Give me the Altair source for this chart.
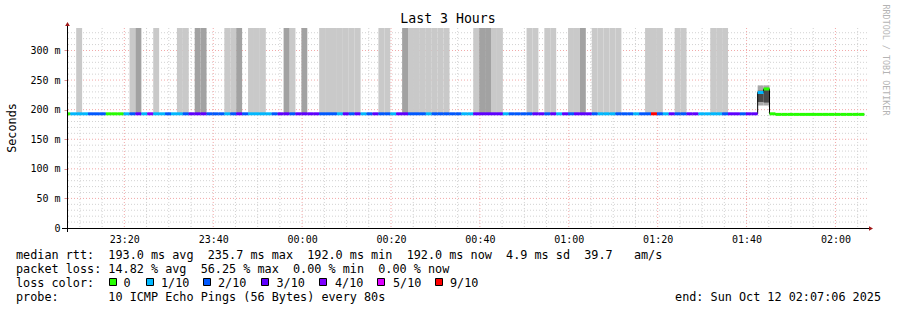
import altair as alt
import pandas as pd

# ---------------- data ----------------
RANGE_START = "2025-10-11 23:07:06"
FIRST_STEP = "2025-10-11 23:07:50"
RANGE_END = "2025-10-12 02:07:06"
STEP_SECONDS = 80

# loss class (pings lost out of 10) for each 80 s step; first entry = partial step before FIRST_STEP
loss = [
    0,
    1, 1, 1, 2, 2, 2, 0, 0, 0, 1,          # 0-9
    2, 3, 1, 4, 1, 1, 2, 1, 1, 2,          # 10-19
    3, 3, 3, 2, 2, 2, 1, 2, 3, 2,          # 20-29
    1, 1, 1, 1, 2, 3, 3, 2, 3, 3,          # 30-39
    3, 3, 2, 2, 2, 1, 3, 2, 3, 1,          # 40-49
    2, 3, 2, 2, 1, 3, 3, 2, 2, 2,          # 50-59
    1, 2, 2, 2, 2, 2, 1, 1, 3, 3,          # 60-69
    3, 3, 3, 1, 2, 2, 2, 2, 3, 3,          # 70-79
    2, 3, 1, 3, 2, 3, 3, 3, 2, 1,          # 80-89
    1, 1, 2, 2, 2, 1, 2, 2, 9, 2,          # 90-99
    1, 3, 2, 2, 3, 3, 1, 1, 1, 1,          # 100-109
    2, 3, 3, 2, 3, 3, 1, 0, 0, 0,          # 110-119
    0, 0, 0, 0, 0, 0, 0, 0, 0, 0,          # 120-129
    0, 0, 0, 0,                            # 130-133
]

# median rtt (ms) for each step, same indexing as loss
median_ms = [
    193,
    193, 193, 193, 193, 193, 193, 193, 193, 193, 193,
    193, 193, 193, 193, 193, 193, 193, 193, 193, 193,
    193, 193, 193, 193, 193, 193, 193, 193, 193, 193,
    193, 193, 193, 193, 193, 193, 193, 193, 193, 193,
    193, 193, 193, 193, 193, 193, 193, 193, 193, 193,
    193, 193, 193, 193, 193, 193, 193, 193, 193, 193,
    193, 193, 193, 193, 193, 193, 193, 193, 193, 193,
    193, 193, 193, 193, 193, 193, 193, 193, 193, 193,
    193, 193, 193, 193, 193, 193, 193, 193, 193, 193,
    193, 193, 193, 193, 193, 193, 193, 193, 193, 193,
    193, 193, 193, 193, 193, 193, 193, 193, 193, 193,
    193, 193, 193, 193, 193, 193, 229, 235, 193, 192,
    192, 192, 192, 192, 192, 192, 192, 192, 192, 192,
    192, 192, 192, 192,
]

# smoke (ping spread) bands
smoke_top_ms = 338
smoke_light_steps = [1, 10, 14, 18, 19, 26, 27, 30, 31, 32, 37,
                     42, 43, 44, 45, 46, 47, 48, 52, 53,
                     57, 58, 59, 60, 61, 62, 63, 68, 71, 72, 77, 78, 80, 81,
                     84, 85, 88, 89, 90, 91, 92, 97, 98, 99, 102, 103,
                     108, 109, 110]
smoke_dark_steps = [11, 21, 22, 28, 36, 39, 56, 69, 70, 86]
spike_steps = [116, 117]
spike_outer_lo = [207, 207]
spike_outer_hi = [241, 241]
spike_inner_lo = [213, 212]
spike_inner_hi = [232, 233]

loss_levels = [0, 1, 2, 3, 4, 5, 9]
loss_labels = ["0", "1/10", "2/10", "3/10", "4/10", "5/10", "9/10"]
loss_colors = ["#26ff00", "#00b8ff", "#0059ff", "#5e00ff", "#7e00ff", "#dd00ff", "#ff0000"]

y_major = [0, 50, 100, 150, 200, 250, 300]
y_minor = [10, 20, 30, 40, 60, 70, 80, 90, 110, 120, 130, 140, 160, 170, 180, 190,
           210, 220, 230, 240, 260, 270, 280, 290, 310, 320, 330]
x_major_labels = ["23:20", "23:40", "00:00", "00:20", "00:40", "01:00", "01:20", "01:40", "02:00"]
x_minor_times = ["23:10", "23:15", "23:25", "23:30", "23:35", "23:45", "23:50", "23:55",
                 "00:05", "00:10", "00:15", "00:25", "00:30", "00:35", "00:45", "00:50", "00:55",
                 "01:05", "01:10", "01:15", "01:25", "01:30", "01:35", "01:45", "01:50", "01:55",
                 "02:05"]

stats_line = "median rtt:  193.0 ms avg  235.7 ms max  192.0 ms min  192.0 ms now  4.9 ms sd  39.7   am/s"
loss_line = "packet loss: 14.82 % avg  56.25 % max  0.00 % min  0.00 % now"
probe_line = "probe:       10 ICMP Echo Pings (56 Bytes) every 80s"
end_line = "end: Sun Oct 12 02:07:06 2025"

# ---------------- helpers ----------------
def ms(ts):
    return int(pd.Timestamp(ts, tz="UTC").value // 10**6)

def hhmm_ms(s):
    h = int(s[:2])
    day = "2025-10-11" if h >= 12 else "2025-10-12"
    return ms(f"{day} {s}:00")

start_ms, end_ms, first_ms = ms(RANGE_START), ms(RANGE_END), ms(FIRST_STEP)
step_ms = STEP_SECONDS * 1000

def step_bounds(k):
    t0 = start_ms if k < 0 else first_ms + k * step_ms
    return t0, first_ms + (k + 1) * step_ms

steps = pd.DataFrame({"k": list(range(-1, len(loss) - 1)), "loss": loss, "median": median_ms})
steps["t0"] = [step_bounds(k)[0] for k in steps["k"]]
steps["t1"] = [step_bounds(k)[1] for k in steps["k"]]

line_df = pd.concat([steps[["t0", "median"]],
                     pd.DataFrame({"t0": [steps["t1"].iloc[-1]], "median": [steps["median"].iloc[-1]]})],
                    ignore_index=True)

def smoke_df(step_list, lo, hi):
    return pd.DataFrame({"t0": [step_bounds(k)[0] for k in step_list],
                         "t1": [step_bounds(k)[1] for k in step_list],
                         "median": lo, "hi": hi})

light_df = smoke_df(smoke_light_steps, [median_ms[k + 1] for k in smoke_light_steps], [smoke_top_ms] * len(smoke_light_steps))
dark_df = smoke_df(smoke_dark_steps, [median_ms[k + 1] for k in smoke_dark_steps], [smoke_top_ms] * len(smoke_dark_steps))
spike_outer_df = smoke_df(spike_steps, spike_outer_lo, spike_outer_hi)
spike_inner_df = smoke_df(spike_steps, spike_inner_lo, spike_inner_hi)

# ---------------- chart ----------------
FONT = "DejaVu Sans Mono"
W, H = 800, 200
xs = alt.Scale(type="utc", domain=[start_ms, end_ms])
ys = alt.Scale(domain=[0, 338], nice=False, zero=True)

X_AX = alt.Axis(values=[hhmm_ms(t) for t in x_major_labels],
                labelExpr="utcFormat(datum.value, '%H:%M')",
                labelFont=FONT, labelFontSize=10, labelColor="black", tickSize=0, domain=False,
                grid=False, labelPadding=6, title=None, labelFlush=False, labelOverlap=False)
Y_AX = alt.Axis(values=y_major,
                labelExpr="datum.value == 0 ? '0\u00a0\u00a0' : datum.value + '\u00a0m'",
                labelFont=FONT, labelFontSize=10, labelColor="black", tickSize=3, tickColor="#e09090",
                domain=False, grid=False, labelPadding=4, title=None, labelOverlap=False)

X0 = alt.X("t0:T", scale=xs, axis=X_AX)
YM = alt.Y("median:Q", scale=ys, axis=Y_AX)

minor_col, major_col = "#d2d2d2", "#f2a8a8"

def hgrid(vals, color):
    return alt.Chart(pd.DataFrame({"median": vals})).mark_rule(
        color=color, strokeDash=[1, 2], strokeWidth=1).encode(y=YM)

def vgrid(vals, color):
    return alt.Chart(pd.DataFrame({"t0": vals})).mark_rule(
        color=color, strokeDash=[1, 2], strokeWidth=1).encode(x=X0)

layers = [
    hgrid(y_minor, minor_col),
    vgrid([hhmm_ms(t) for t in x_minor_times], minor_col),
    hgrid(y_major[1:], major_col),
    vgrid([hhmm_ms(t) for t in x_major_labels], major_col),
]

def smoke(df, color):
    return alt.Chart(df).mark_rect(color=color).encode(x=X0, x2="t1:T", y=YM, y2="hi:Q")

layers += [smoke(light_df, "#c9c9c9"), smoke(dark_df, "#a2a2a2"),
           smoke(spike_outer_df, "#a8a8a8"), smoke(spike_inner_df, "#4a4a4a")]

layers.append(alt.Chart(line_df).mark_line(interpolate="step-after", color="black", strokeWidth=1).encode(
    x=X0, y=YM))

seg = alt.Chart(steps).mark_rule(strokeWidth=3).encode(
    x=X0, x2="t1:T", y=YM,
    color=alt.Color("loss:O", scale=alt.Scale(domain=loss_levels, range=loss_colors), legend=None),
)
layers.append(seg)

# axis lines and arrows
anchor = pd.DataFrame({"a": [0]})
layers.append(alt.Chart(anchor).mark_rule(color="black", strokeWidth=1).encode(
    x=alt.value(-5), x2=alt.value(802), y=alt.value(H + 0.5)))
layers.append(alt.Chart(anchor).mark_rule(color="black", strokeWidth=1).encode(
    x=alt.value(0.5), y=alt.value(-4), y2=alt.value(H + 4)))
layers.append(alt.Chart(anchor).mark_point(shape="triangle-right", filled=True, color="#a01818", size=22, opacity=1).encode(
    x=alt.value(804), y=alt.value(H + 0.5)))
layers.append(alt.Chart(anchor).mark_point(shape="triangle-up", filled=True, color="#a01818", size=22, opacity=1).encode(
    x=alt.value(0.5), y=alt.value(-4)))

def txt(text, x, y, size=11.8, align="left", angle=0, color="black", baseline="middle"):
    kw = dict(font=FONT, fontSize=size, align=align, baseline=baseline, color=color)
    if angle:
        kw["angle"] = angle
    return alt.Chart(anchor).mark_text(**kw).encode(
        x=alt.value(x), y=alt.value(y), text=alt.value(text.replace(" ", "\u00a0")))

layers += [
    txt("Last 3 Hours", 381, -9, size=13.2, align="center"),
    txt("Seconds", -55, 100, size=11.8, align="center", angle=270),
    txt("RRDTOOL / TOBI OETIKER", 819, 32, size=8.4, align="center", angle=90, color="#b4b4b4"),
    txt(stats_line, -51, 226.5),
    txt(loss_line, -51, 240.5),
    txt("loss color:", -51, 254.5),
    txt(probe_line, -51, 268.5),
    txt(end_line, 814, 268.5, align="right"),
]

sq_x = [109, 146, 203, 261, 319, 377, 435]
lab_x = [123.5, 161, 218, 276.5, 335, 393, 450]
for lvl, lab, col, sx, lx in zip(loss_levels, loss_labels, loss_colors, sq_x, lab_x):
    layers.append(alt.Chart(anchor).mark_rect(color=col, stroke="black", strokeWidth=1).encode(
        x=alt.value(sx - 67 + 0.5), x2=alt.value(sx - 67 + 7.5), y=alt.value(250.5), y2=alt.value(257.5)))
    layers.append(txt(lab, lx - 67, 254.5))

chart = alt.layer(*layers).properties(
    width=W, height=H,
    padding={"left": 67, "top": 28, "right": 30, "bottom": 82},
    autosize="none",
    background="white",
).configure_view(stroke=None)

chart.save("out.html", embed_options={"renderer": "svg", "actions": False})
